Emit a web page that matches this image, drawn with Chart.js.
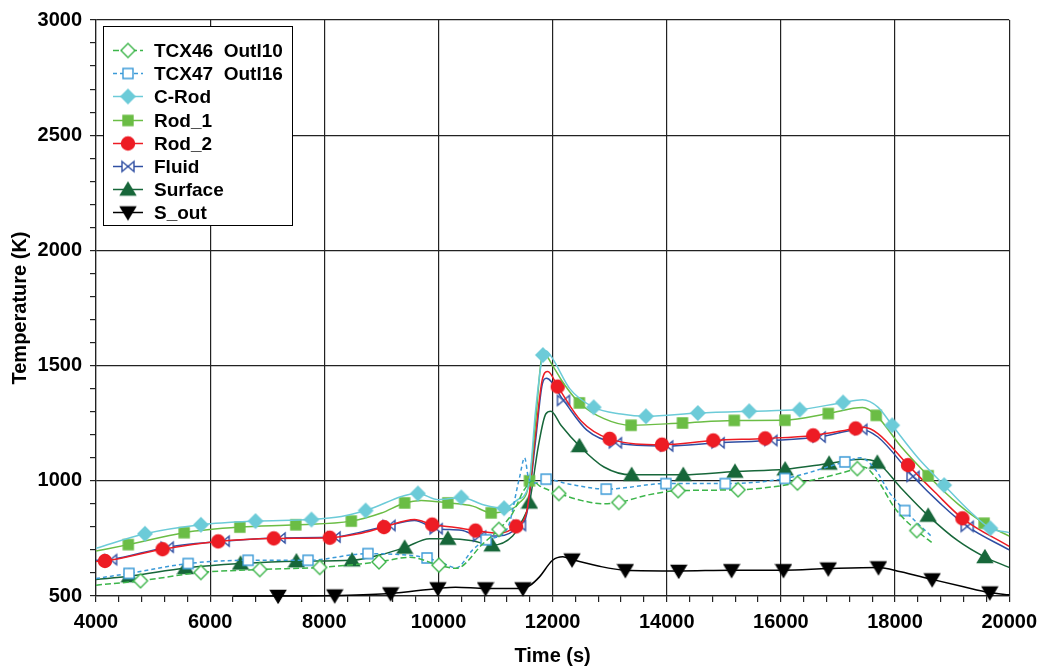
<!DOCTYPE html>
<html lang="en">
<head>
<meta charset="UTF-8">
<title>Temperature history</title>
<script src="https://cdn.jsdelivr.net/npm/chart.js"></script>
<style>
  html, body { margin: 0; padding: 0; background: #fff; }
</style>
</head>
<body>
<canvas id="tempChart" width="1045" height="668"></canvas>
<script>
  // [time (s), temperature (K), 1 = marker drawn here]
  const tcx46 = [[4000,547],[4780,566,1],[5838,602,1],[6870,615,1],[7920,624,1],[8958,648,1],[9500,668],[10008,634,1],[10310,620],[10780,727],[11058,789,1],[11300,860],[11500,960],[11650,1000],[11770,978],[12110,945,1],[12500,915],[12900,900],[13160,906,1],[13700,940],[14200,957,1],[15250,961,1],[16290,990,1],[17000,1030],[17340,1053,1],[17450,1060],[17700,1000],[18000,880],[18380,784,1],[18670,727]];
  const tcx47 = [[4000,576],[4578,598,1],[5615,641,1],[6665,655,1],[7715,655,1],[8765,684,1],[9300,680],[9800,665,1],[10100,640],[10310,622],[10600,700],[10835,744,1],[11200,790],[11420,1014],[11510,1100],[11580,1010],[11700,990],[11886,1007,1],[12300,985],[12940,964,1],[13985,988,1],[15025,988,1],[16070,1010,1],[17120,1082,1],[17400,1100],[17650,1050],[17900,950],[18170,871,1],[18650,756]];
  const cRod = [[4000,707],[4858,770,1],[5838,809,1],[6795,825,1],[7775,832,1],[8300,845],[8725,871,1],[9640,945,1],[10000,918],[10400,928,1],[10800,895],[11150,881,1],[11400,920],[11500,935],[11600,1010],[11700,1300],[11830,1546,1],[11886,1563],[12000,1530],[12300,1400],[12720,1319,1],[13200,1290],[13636,1280,1],[14545,1294,1],[15445,1302,1],[16330,1309,1],[17090,1340,1],[17430,1352],[17700,1320],[17950,1241,1],[18400,1100],[18860,981,1],[19300,870],[19670,794,1],[20000,775]];
  const rod1 = [[4000,695],[4566,723,1],[5545,775,1],[6520,799,1],[7500,809,1],[8473,825,1],[9000,860],[9408,904,1],[9700,915],[10165,904,1],[10600,890],[10923,861,1],[11200,870],[11400,900],[11595,1000,1],[11700,1250],[11800,1520],[11860,1548],[12000,1500],[12200,1420],[12470,1338,1],[12900,1270],[13375,1241,1],[14276,1251,1],[15183,1262,1],[16070,1263,1],[16830,1292,1],[17430,1318],[17670,1284,1],[18100,1150],[18580,1022,1],[19100,900],[19560,816,1],[20000,760]];
  const rod2 = [[4000,650],[4157,652,1],[5166,703,1],[6140,737,1],[7115,750,1],[8095,753,1],[8600,770],[9045,799,1],[9580,832],[9890,810,1],[10300,797],[10650,784,1],[11060,772],[11360,802,1],[11550,870],[11700,1200],[11820,1440],[11915,1474],[12090,1409,1],[12500,1260],[13000,1182,1],[13916,1157,1],[14815,1175,1],[15725,1184,1],[16565,1197,1],[17310,1227,1],[17450,1232],[17700,1205],[18228,1068,1],[18700,950],[19180,837,1],[20000,715]];
  const fluid = [[4000,655],[4256,658,1],[5248,712,1],[6228,738,1],[7208,752,1],[8170,756,1],[8600,775],[9133,806,1],[9580,828],[9960,792,1],[10400,785],[10720,760,1],[11050,760],[11420,806,1],[11550,860],[11700,1170],[11820,1420],[11890,1445],[12190,1349,1],[12600,1220],[13100,1165,1],[13998,1151,1],[14900,1165,1],[15824,1175,1],[16670,1190,1],[17400,1223,1],[17700,1190],[18315,1019,1],[18800,900],[19265,802,1],[20000,700]];
  const surface = [[4000,572],[4583,586,1],[5568,622,1],[6532,641,1],[7511,651,1],[8486,655,1],[9000,680],[9408,710,1],[9845,749],[10165,749,1],[10600,740],[10940,720,1],[11300,760],[11450,820],[11595,906,1],[11750,1150],[11880,1290],[11970,1302],[12150,1240],[12470,1151,1],[12900,1060],[13385,1026,1],[14290,1026,1],[15195,1040,1],[16075,1050,1],[16845,1075,1],[17400,1093],[17690,1079,1],[18100,970],[18580,849,1],[19100,740],[19575,669,1],[20000,624]];
  const sOut = [[6400,500],[7190,500,1],[8183,502,1],[9163,511,1],[9990,533,1],[10300,538],[10825,533,1],[11480,533,1],[11600,545],[11770,583],[12000,655],[12180,670],[12340,658,1],[12800,630],[13275,612,1],[14210,609,1],[15136,612,1],[16045,612,1],[16830,619,1],[17710,624,1],[18100,605],[18650,572,1],[19200,540],[19660,515,1],[20000,505]];

  const seriesNames = ['TCX46  Outl10', 'TCX47  Outl16', 'C-Rod', 'Rod_1', 'Rod_2', 'Fluid', 'Surface', 'S_out'];

  // small canvases used as point styles
  function marker(shape, stroke, fill) {
    const c = document.createElement('canvas');
    c.width = 18; c.height = 18;
    const g = c.getContext('2d');
    const m = 9;
    g.lineWidth = 1.4;
    g.strokeStyle = stroke;
    g.fillStyle = fill;
    g.beginPath();
    if (shape === 'diamond') {
      g.moveTo(m, m - 7); g.lineTo(m + 7, m); g.lineTo(m, m + 7); g.lineTo(m - 7, m); g.closePath();
    } else if (shape === 'square') {
      g.rect(m - 5, m - 5, 10, 10);
    } else if (shape === 'circle') {
      g.arc(m, m, 6.5, 0, Math.PI * 2);
    } else if (shape === 'bowtie') {
      g.moveTo(m - 6, m - 5); g.lineTo(m, m); g.lineTo(m - 6, m + 5); g.closePath();
      g.moveTo(m + 6, m - 5); g.lineTo(m, m); g.lineTo(m + 6, m + 5); g.closePath();
    } else if (shape === 'up') {
      g.moveTo(m, m - 7); g.lineTo(m + 7.5, m + 5.5); g.lineTo(m - 7.5, m + 5.5); g.closePath();
    } else if (shape === 'down') {
      g.moveTo(m, m + 7); g.lineTo(m + 7.5, m - 5.5); g.lineTo(m - 7.5, m - 5.5); g.closePath();
    }
    g.fill();
    g.stroke();
    return c;
  }

  const styles = [
    { color: '#3cb54a', dash: [6, 3], mk: marker('diamond', '#3cb54a', '#fff') },
    { color: '#3b9ad8', dash: [4, 3], mk: marker('square', '#3b9ad8', '#fff') },
    { color: '#6ccbd8', dash: [], mk: marker('diamond', '#6ccbd8', '#6ccbd8') },
    { color: '#6bbd45', dash: [], mk: marker('square', '#6bbd45', '#6bbd45') },
    { color: '#ed1c24', dash: [], mk: marker('circle', '#ed1c24', '#ed1c24') },
    { color: '#2f4fa3', dash: [], mk: marker('bowtie', '#2f4fa3', '#fff') },
    { color: '#17673a', dash: [], mk: marker('up', '#17673a', '#17673a') },
    { color: '#000000', dash: [], mk: marker('down', '#000', '#000') }
  ];

  const allSeries = [tcx46, tcx47, cRod, rod1, rod2, fluid, surface, sOut];

  const datasets = allSeries.map((s, i) => ({
    label: seriesNames[i],
    data: s.map(p => ({ x: p[0], y: p[1], m: p[2] || 0 })),
    borderColor: styles[i].color,
    backgroundColor: styles[i].color,
    borderWidth: 1.5,
    borderDash: styles[i].dash,
    pointStyle: styles[i].mk,
    pointRadius: ctx => (ctx.raw && ctx.raw.m ? 6 : 0),
    pointHoverRadius: 0,
    cubicInterpolationMode: 'monotone',
    clip: false
  }));

  // legend with line segment and marker, drawn like the original
  const boxLegend = {
    id: 'boxLegend',
    afterDraw(chart) {
      const ctx = chart.ctx;
      ctx.save();
      ctx.fillStyle = '#fff';
      ctx.fillRect(103, 26, 190, 200);
      ctx.strokeStyle = '#000';
      ctx.lineWidth = 1;
      ctx.strokeRect(103.5, 26.5, 189, 199);
      ctx.font = 'bold 19px "Liberation Sans", Arial, sans-serif';
      ctx.textBaseline = 'middle';
      seriesNames.forEach((name, i) => {
        const y = Math.round(50 + i * 23.2) + 0.5;
        ctx.strokeStyle = styles[i].color;
        ctx.lineWidth = 1.5;
        ctx.setLineDash(styles[i].dash);
        ctx.beginPath();
        ctx.moveTo(113, y); ctx.lineTo(143, y);
        ctx.stroke();
        ctx.setLineDash([]);
        ctx.drawImage(styles[i].mk, 128 - 9, y - 9);
        ctx.fillStyle = '#000';
        ctx.fillText(name, 154, y + 1);
      });
      ctx.restore();
    }
  };

  const font = { family: '"Liberation Sans", Arial, sans-serif', size: 20, weight: 'bold' };

  new Chart(document.getElementById('tempChart'), {
    type: 'line',
    data: { datasets },
    options: {
      responsive: false,
      animation: false,
      events: [],
      layout: { padding: { top: 18, right: 35, left: 0, bottom: 0 } },
      plugins: { legend: { display: false }, tooltip: { enabled: false } },
      scales: {
        x: {
          type: 'linear',
          min: 4000, max: 20000,
          afterFit: s => { s.height = 72; },
          border: { color: '#222', width: 1.2 },
          grid: {
            color: ctx => (ctx.tick && ctx.tick.value % 2000 === 0 ? '#222' : 'rgba(0,0,0,0)'),
            tickColor: '#222',
            lineWidth: 1.2,
            tickLength: 6
          },
          ticks: {
            stepSize: 400, autoSkip: false, maxRotation: 0, padding: 8,
            color: '#000', font,
            callback: v => (v % 2000 === 0 ? String(v) : '')
          },
          title: { display: true, text: 'Time (s)', color: '#000', font, padding: { top: 3, bottom: 0 } }
        },
        y: {
          min: 500, max: 3000,
          afterFit: s => { s.width = 96; },
          border: { color: '#222', width: 1.2 },
          grid: {
            color: ctx => (ctx.tick && ctx.tick.value % 500 === 0 ? '#222' : 'rgba(0,0,0,0)'),
            tickColor: '#222',
            lineWidth: 1.2,
            tickLength: 6
          },
          ticks: {
            stepSize: 100, autoSkip: false, padding: 8,
            color: '#000', font,
            callback: v => (v % 500 === 0 ? String(v) : '')
          },
          title: { display: true, text: 'Temperature (K)', color: '#000', font, padding: { top: 8, bottom: 0 } }
        }
      }
    },
    plugins: [boxLegend]
  });
</script>
</body>
</html>
